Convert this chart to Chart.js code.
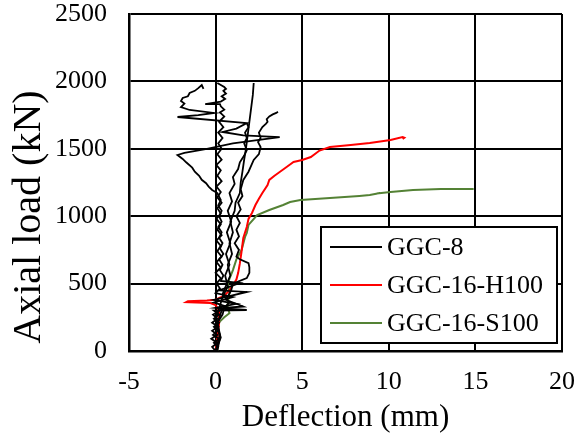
<!DOCTYPE html>
<html>
<head>
<meta charset="utf-8">
<script src="https://cdn.jsdelivr.net/npm/chart.js@4.4.1/dist/chart.umd.min.js"></script>
<style>
  html, body { margin: 0; padding: 0; background: #fff; }
  #wrap { width: 576px; height: 436px; }
</style>
</head>
<body>
<div id="wrap"><canvas id="grafico" width="576" height="436"></canvas></div>
<script>
// Series labels and colours
const seriesNames = ['GGC-8', 'GGC-16-H100', 'GGC-16-S100'];
const seriesColors = ['#000000', '#ff0000', '#548235'];

// Axis ticks
const xTicks = [-5, 0, 5, 10, 15, 20];
const yTicks = [0, 500, 1000, 1500, 2000, 2500];

// GGC-8 (several gauges, drawn in the same colour) [deflection mm, load kN]
const ggc8a = [[0,0],[0.15,30],[-0.1,60],[0.2,90],[-0.15,120],[0.15,150],[-0.1,180],[0.2,210],[-0.1,240],[0.2,270],
  [-0.1,300],[1.8,304],[0.0,320],[1.2,350],[-0.1,380],[1.8,438],[0.2,450],[1.4,504],[0.3,520],[0.45,560],
  [0.25,600],[0.4,640],[0.2,680],[0.45,720],[0.25,760],[0.4,800],[0.2,840],[0.35,880],[0.15,920],[0.35,960],
  [0.2,1000],[0.35,1040],[0.15,1080],[0.3,1120],[0.1,1172],[-0.2,1195],[-0.4,1220],[-0.55,1245],[-0.8,1270],
  [-0.95,1300],[-1.2,1330],[-1.35,1360],[-1.7,1400],[-1.9,1425],[-2.2,1454],[-1.8,1470],[-0.5,1500],[1.0,1540],
  [3.7,1587],[1.6,1600],[0.4,1625],[1.2,1650],[1.8,1691],[-2.2,1736],[-1.0,1750],[-0.1,1766],[-1.5,1788],
  [-2.0,1810],[-1.8,1835],[-2.0,1855],[-1.9,1877],[-1.6,1890],[-1.5,1914],[-1.2,1930],[-1.0,1950],
  [-0.8,1973],[-0.7,1944]];
const ggc8b = [[0,0],[-0.2,30],[0.1,60],[-0.25,90],[0.1,120],[-0.2,150],[0.15,180],[-0.2,210],[0.1,240],
  [-0.15,270],[0.1,290],[0.6,330],[-0.1,360],[1.0,400],[0.0,430],[0.25,465],[0.05,500],[0.3,540],[0.0,580],
  [0.3,620],[0.05,660],[0.35,700],[0.1,740],[0.3,780],[0.05,820],[0.35,860],[0.1,900],[0.3,940],[0.05,980],
  [0.3,1020],[0.1,1060],[0.35,1100],[0.1,1140],[0.3,1180],[0.05,1220],[0.35,1260],[0.1,1300],[0.3,1340],
  [0.05,1380],[0.35,1420],[0.1,1460],[0.35,1500],[0.15,1540],[0.4,1580],[0.15,1620],[0.45,1660],[0.2,1700],
  [0.5,1740],[0.25,1770],[0.5,1790],[0.3,1815],[0.25,1832],[-0.6,1832],[0.3,1850],[0.55,1870],[0.35,1890],
  [0.6,1910],[0.45,1930],[0.6,1945],[0.5,1958],[0.1,1988]];
const ggc8c = [[0.1,0],[0.25,100],[0.1,200],[0.35,300],[0.8,360],[0.4,420],[0.65,500],[0.85,560],[0.7,640],
  [0.95,720],[0.8,800],[1.0,880],[0.85,960],[1.1,1040],[1.15,1100],[1.4,1172],[1.45,1250],[1.55,1330],
  [1.65,1420],[1.75,1500],[1.85,1600],[1.95,1700],[2.05,1800],[2.15,1900],[2.2,1988]];
const ggc8d = [[0,0],[0.3,100],[0.05,200],[0.4,270],[0.5,320],[1.6,330],[0.6,380],[0.9,450],[1.0,500],
  [1.8,541],[1.95,580],[1.95,620],[1.9,652],[1.4,680],[1.2,700],[1.35,750],[1.1,800],[1.35,850],[1.2,900],
  [1.4,950],[1.2,1000],[1.45,1050],[1.3,1100],[1.55,1150],[1.45,1200],[1.6,1269],[1.9,1330],[2.2,1417],
  [2.5,1460],[2.6,1513],[2.45,1550],[2.6,1580],[2.5,1620],[2.7,1662],[2.9,1685],[3.0,1700],[2.95,1720],
  [3.1,1740],[3.3,1755],[3.5,1766],[3.6,1775]];
const ggc8e = [[0,0],[0.25,120],[0.05,250],[0.4,400],[0.7,480],[0.55,560],[0.8,640],[0.6,720],[0.85,800],
  [0.65,880],[0.9,960],[0.7,1040],[0.95,1110],[0.8,1172],[1.1,1240],[1.0,1290],[1.3,1350],[1.4,1400],
  [1.65,1450],[1.8,1490],[1.65,1540],[1.8,1580],[1.7,1620],[1.9,1660],[1.8,1691]];

// GGC-16-H100
const ggc16h = [[0,0],[0.1,100],[0.2,200],[0.2,300],[0.0,340],[-0.3,356],[-1.7,363],[-1.6,370],[-0.5,375],
  [0.0,380],[0.5,410],[0.8,450],[1.0,490],[1.2,530],[1.3,578],[1.4,650],[1.5,740],[1.6,838],[1.8,920],
  [1.9,980],[2.1,1024],[2.3,1083],[2.5,1130],[2.7,1172],[3.0,1231],[3.1,1269],[3.4,1300],[3.7,1328],
  [4.1,1365],[4.5,1402],[5.0,1417],[5.5,1439],[6.0,1487],[6.6,1513],[7.8,1528],[8.9,1543],[10.1,1565],
  [10.8,1588],[10.9,1582],[10.8,1573]];

// GGC-16-S100
const ggc16s = [[0.1,0],[0.1,100],[0.15,207],[0.5,250],[0.8,280],[0.7,320],[0.7,356],[0.8,430],[0.7,504],
  [1.0,600],[1.2,680],[1.5,750],[1.7,846],[1.8,875],[1.9,935],[2.4,1009],[3.1,1046],[3.9,1083],[4.3,1105],
  [4.9,1120],[6.6,1135],[8.3,1150],[8.9,1157],[9.5,1172],[9.3,1168],[10.1,1180],[11.4,1194],[13.0,1202],
  [14.9,1202]];

const yTitulo = 'Axial load (kN)';

const aPuntos = arr => arr.map(p => ({ x: p[0], y: p[1] }));

function serie(label, pts, color, width) {
  return {
    label: label,
    data: aPuntos(pts),
    borderColor: color,
    backgroundColor: color,
    borderWidth: width,
    showLine: true,
    pointRadius: 0,
    tension: 0
  };
}

const fuente = 'Liberation Serif, Times New Roman, serif';

// Quitar el relleno automático de las escalas para fijar el área del gráfico
function sinRelleno(s) {
  s.paddingTop = 0; s.paddingBottom = 0; s.paddingLeft = 0; s.paddingRight = 0;
}

// Título del eje Y centrado en la altura total de la figura
const tituloY = {
  id: 'tituloY',
  afterDraw(chart) {
    const ctx = chart.ctx;
    ctx.save();
    ctx.translate(29, 217);
    ctx.rotate(-Math.PI / 2);
    ctx.font = '40px ' + fuente;
    ctx.fillStyle = '#000';
    ctx.textAlign = 'center';
    ctx.textBaseline = 'middle';
    ctx.fillText(yTitulo, 0, 0);
    ctx.restore();
  }
};

// Leyenda dibujada dentro del área del gráfico
const leyendaCaja = {
  id: 'leyendaCaja',
  afterDraw(chart) {
    const ctx = chart.ctx;
    const x0 = 321, y0 = 227, w = 236, h = 116;
    ctx.save();
    ctx.fillStyle = '#fff';
    ctx.fillRect(x0, y0, w, h);
    ctx.strokeStyle = '#000';
    ctx.lineWidth = 2;
    ctx.strokeRect(x0, y0, w, h);
    ctx.font = '26px ' + fuente;
    ctx.textBaseline = 'middle';
    ctx.fillStyle = '#000';
    const filas = [247, 285, 323];
    seriesNames.forEach((nombre, i) => {
      ctx.strokeStyle = seriesColors[i];
      ctx.lineWidth = 2;
      ctx.beginPath();
      ctx.moveTo(330, filas[i]);
      ctx.lineTo(382, filas[i]);
      ctx.stroke();
      ctx.fillText(nombre, 387, filas[i] + 1);
    });
    ctx.restore();
  }
};

new Chart(document.getElementById('grafico').getContext('2d'), {
  type: 'scatter',
  data: {
    datasets: [
      serie(seriesNames[0], ggc8a, seriesColors[0], 1.8),
      serie(seriesNames[0], ggc8b, seriesColors[0], 1.8),
      serie(seriesNames[0], ggc8c, seriesColors[0], 1.8),
      serie(seriesNames[0], ggc8d, seriesColors[0], 1.8),
      serie(seriesNames[0], ggc8e, seriesColors[0], 1.8),
      serie(seriesNames[1], ggc16h, seriesColors[1], 2),
      serie(seriesNames[2], ggc16s, seriesColors[2], 2)
    ]
  },
  options: {
    responsive: false,
    animation: false,
    layout: { padding: { top: 14, right: 14, left: 0, bottom: 0 } },
    plugins: { legend: { display: false }, tooltip: { enabled: false } },
    scales: {
      x: {
        type: 'linear',
        min: -5, max: 20,
        afterBuildTicks: s => { s.ticks = xTicks.map(v => ({ value: v })); },
        afterFit: s => { s.height = 85; sinRelleno(s); },
        grid: { color: '#000', lineWidth: 2, drawTicks: false },
        border: { color: '#000', width: 2.5 },
        ticks: { color: '#000', font: { family: fuente, size: 26 }, padding: 16, maxRotation: 0,
          callback: v => String(v) },
        title: { display: true, text: 'Deflection (mm)', color: '#000',
          font: { family: fuente, size: 31, weight: 'normal' }, padding: 0 }
      },
      y: {
        type: 'linear',
        min: 0, max: 2500,
        afterBuildTicks: s => { s.ticks = yTicks.map(v => ({ value: v })); },
        afterFit: s => { s.width = 129; sinRelleno(s); },
        grid: { color: '#000', lineWidth: 2, drawTicks: false },
        border: { color: '#000', width: 2.5 },
        ticks: { color: '#000', font: { family: fuente, size: 26 }, padding: 22,
          callback: v => String(v) },
        title: { display: false }
      }
    }
  },
  plugins: [leyendaCaja, tituloY]
});
</script>
</body>
</html>
